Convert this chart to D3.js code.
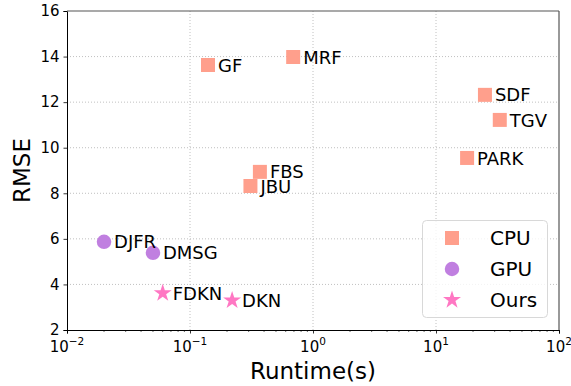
<!DOCTYPE html>
<html><head><meta charset="utf-8">
<script src="https://cdn.jsdelivr.net/npm/d3@7"></script>
<style>body{margin:0;background:#fff}svg{display:block;font-family:"DejaVu Sans",sans-serif}</style>
</head><body><svg id="c" width="571" height="386"></svg>
<script>
const cpuNames = ["GF","MRF","FBS","JBU","SDF","TGV","PARK"];
const cpuTime  = [0.14,0.69,0.37,0.31,25,33,17.9];
const cpuRmse  = [13.63,13.98,8.94,8.32,12.32,11.22,9.55];
const gpuNames = ["DJFR","DMSG"];
const gpuTime  = [0.02,0.05];
const gpuRmse  = [5.87,5.39];
const oursNames = ["FDKN","DKN"];
const oursTime  = [0.06,0.22];
const oursRmse  = [3.62,3.3];
const yTicks = [2,4,6,8,10,12,14,16];
const xTicks = [0.01,0.1,1,10,100];
const xTickExp = ["\u22122","\u22121","0","1","2"];
const legendLabels = ["CPU","GPU","Ours"];
const colors = {CPU:"#ff9f8c", GPU:"#c07fe0", Ours:"#ff77c3"};

const svg = d3.select("#c");
const L=67,R=559,T=11,B=330;
const x = d3.scaleLog().domain([0.01,100]).range([L,R]);
const y = d3.scaleLinear().domain([2,16]).range([B,T]);

// grid
const g = svg.append("g");
g.selectAll(".gx").data(xTicks.slice(1,-1)).join("line")
 .attr("x1",d=>x(d)).attr("x2",d=>x(d)).attr("y1",T).attr("y2",B)
 .attr("stroke","#b0b0b0").attr("stroke-width",0.8).attr("stroke-dasharray","1,2");
g.selectAll(".gy").data(yTicks.slice(1,-1)).join("line")
 .attr("y1",d=>y(d)).attr("y2",d=>y(d)).attr("x1",L).attr("x2",R)
 .attr("stroke","#b0b0b0").attr("stroke-width",0.8).attr("stroke-dasharray","1,2");

// axes
const xAxis = d3.axisBottom(x).tickValues(xTicks).tickFormat("").tickSize(3.5);
const xa = svg.append("g").attr("transform",`translate(0,${B})`).call(xAxis);
const minor=[];
for (let e=-2;e<2;e++) for (let k=2;k<10;k++) minor.push(k*Math.pow(10,e));
xa.selectAll(".minor").data(minor).join("line").attr("class","minor")
 .attr("x1",d=>x(d)).attr("x2",d=>x(d)).attr("y1",0).attr("y2",2).attr("stroke","#000").attr("stroke-width",0.6);
xa.select(".domain").attr("stroke","#000");
xa.selectAll(".tick line").attr("stroke","#000").attr("stroke-width",0.8);
xTicks.forEach((t,i)=>{
  const tx = svg.append("text").attr("x",x(t)).attr("y",B+22).attr("text-anchor","middle")
   .attr("font-size",15).attr("fill","#000");
  tx.append("tspan").text("10");
  tx.append("tspan").attr("dy",-7).attr("font-size",10.5).text(xTickExp[i]);
});
const yAxis = d3.axisLeft(y).tickValues(yTicks).tickSize(3.5).tickPadding(4);
const ya = svg.append("g").attr("transform",`translate(${L},0)`).call(yAxis);
ya.select(".domain").attr("stroke","#000");
ya.selectAll(".tick line").attr("stroke","#000").attr("stroke-width",0.8);
ya.selectAll(".tick text").attr("font-size",15).attr("font-family","DejaVu Sans").attr("fill","#000");
// top/right spines
svg.append("line").attr("x1",L).attr("x2",R).attr("y1",T).attr("y2",T).attr("stroke","#555").attr("stroke-width",1.2);
svg.append("line").attr("x1",R).attr("x2",R).attr("y1",T).attr("y2",B).attr("stroke","#555").attr("stroke-width",1.2);

// axis labels
svg.append("text").attr("x",(L+R)/2).attr("y",379).attr("text-anchor","middle").attr("font-size",23).text("Runtime(s)");
svg.append("text").attr("transform",`translate(30,${(T+B)/2}) rotate(-90)`).attr("text-anchor","middle").attr("font-size",23).text("RMSE");

const sq = d3.symbol().type(d3.symbolSquare).size(196);
const ci = d3.symbol().type(d3.symbolCircle).size(165);
const st = d3.symbol().type(d3.symbolStar).size(100);

function series(names,times,rmses,sym,col){
  const data = names.map((n,i)=>({n,t:times[i],r:rmses[i]}));
  svg.append("g").selectAll("path").data(data).join("path")
   .attr("d",sym).attr("fill",col)
   .attr("transform",d=>`translate(${x(d.t)},${y(d.r)})`);
  svg.append("g").selectAll("text").data(data).join("text")
   .attr("x",d=>x(d.t)+10).attr("y",d=>y(d.r)+6.6)
   .attr("font-size",18).attr("fill","#000").text(d=>d.n);
}
series(cpuNames,cpuTime,cpuRmse,sq,colors.CPU);
series(gpuNames,gpuTime,gpuRmse,ci,colors.GPU);
series(oursNames,oursTime,oursRmse,st,colors.Ours);

// legend
const lg = svg.append("g");
lg.append("rect").attr("x",422.5).attr("y",220.5).attr("width",125).attr("height",97).attr("rx",4)
 .attr("fill","#fff").attr("fill-opacity",0.8).attr("stroke","#d8d8d8");
const syms=[sq,ci,st];
legendLabels.forEach((lab,i)=>{
  const cy = 238 + i*31;
  lg.append("path").attr("d",syms[i]).attr("fill",colors[lab]).attr("transform",`translate(452,${cy})`);
  lg.append("text").attr("x",490).attr("y",cy+7).attr("font-size",20).text(lab);
});
</script></body></html>
